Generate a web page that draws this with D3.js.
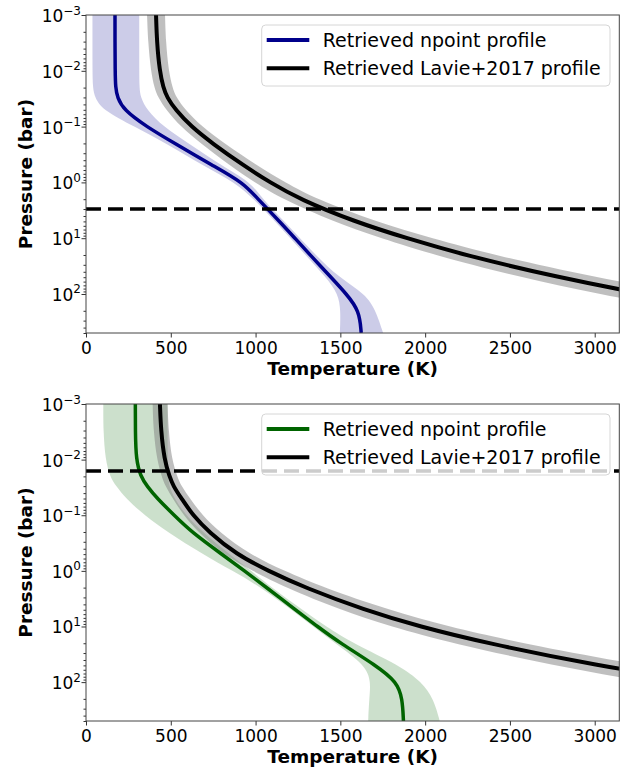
<!DOCTYPE html>
<html>
<head>
<meta charset="utf-8">
<script src="https://cdn.jsdelivr.net/npm/d3@7"></script>
<style>
  body { margin: 0; background: #fff; }
  text { font-family: "DejaVu Sans", sans-serif; fill: #000; }
</style>
</head>
<body>
<div id="chart"></div>
<script>
// pressure grid (bar) shared by every profile
const pressure = [1e-3, 3e-3, 1e-2, 2e-2, 3e-2, 5e-2, 0.1, 0.2, 0.5, 1, 2, 5, 10, 20, 50, 100, 200, 500];

// top planet: temperatures (K) on the pressure grid
const npointA   = [171, 171, 172, 174, 185, 222, 356, 523, 748, 925, 1015, 1141, 1232, 1322, 1444, 1536, 1612, 1623];
const npointALo = [38, 38, 38, 40, 52, 95, 285, 472, 690, 880, 990, 1115, 1205, 1295, 1415, 1488, 1502, 1497];
const npointAHi = [314, 314, 314, 315, 322, 358, 455, 605, 800, 975, 1040, 1170, 1262, 1355, 1490, 1648, 1710, 1752];
const lavieA    = [413, 418, 434, 456, 478, 528, 620, 745, 930, 1085, 1260, 1580, 1890, 2230, 2780, 3280, 3870, 4830];
const lavieALo  = [360, 366, 382, 403, 425, 472, 558, 676, 850, 995, 1160, 1455, 1740, 2055, 2560, 3020, 3560, 4440];
const lavieAHi  = [466, 471, 487, 510, 532, 585, 683, 815, 1010, 1175, 1360, 1705, 2040, 2405, 3000, 3540, 4180, 5220];

// bottom planet
const npointB   = [291, 291, 295, 322, 360, 420, 520, 622, 800, 935, 1065, 1235, 1365, 1500, 1710, 1835, 1866, 1872];
const npointBLo = [102, 102, 114, 141, 177, 236, 344, 481, 688, 864, 1035, 1210, 1340, 1470, 1650, 1680, 1670, 1664];
const npointBHi = [481, 481, 482, 485, 490, 521, 589, 688, 845, 975, 1095, 1275, 1415, 1575, 1850, 1980, 2050, 2086];
const lavieB    = [436, 442, 462, 492, 515, 563, 630, 725, 885, 1074, 1290, 1639, 1965, 2365, 3010, 3623, 4330, 5620];
const lavieBLo  = [393, 398, 418, 446, 468, 512, 575, 662, 808, 980, 1178, 1497, 1795, 2160, 2750, 3310, 3955, 5135];
const lavieBHi  = [481, 487, 506, 538, 562, 614, 685, 788, 962, 1168, 1402, 1781, 2135, 2570, 3270, 3936, 4705, 6105];

// horizontal dashed reference pressures (bar)
const dashedP = [3.0, 0.016];

const xTicks = [0, 500, 1000, 1500, 2000, 2500, 3000];
const yTicks = [1e-3, 1e-2, 1e-1, 1e0, 1e1, 1e2];
const legendLabels = ["Retrieved npoint profile", "Retrieved Lavie+2017 profile"];

const width = 629, height = 768;
const left = 86, right = 619.3;

const panels = [
    { top: 15, bottom: 333, color: "#00008b", med: npointA, lo: npointALo, hi: npointAHi,
      lav: lavieA, lavLo: lavieALo, lavHi: lavieAHi, dash: dashedP[0] },
    { top: 404, bottom: 721, color: "#006400", med: npointB, lo: npointBLo, hi: npointBHi,
      lav: lavieB, lavLo: lavieBLo, lavHi: lavieBHi, dash: dashedP[1] }
];

const svg = d3.select("#chart").append("svg")
    .attr("width", width)
    .attr("height", height);

panels.forEach((p, i) => drawPanel(p, i));

function drawPanel(p, i) {
    const x = d3.scaleLinear().domain([0, 3145]).range([left, right]);
    const y = d3.scaleLog().domain([1e-3, 500]).range([p.top, p.bottom]);
    const g = svg.append("g");

    g.append("clipPath").attr("id", "clip" + i)
        .append("rect")
        .attr("x", left).attr("y", p.top)
        .attr("width", right - left).attr("height", p.bottom - p.top);

    const plot = g.append("g").attr("clip-path", `url(#clip${i})`);

    const rows = (m, lo, hi) => pressure.map((P, k) => ({ P: P, t: m[k], lo: lo[k], hi: hi[k] }));
    const npRows = rows(p.med, p.lo, p.hi);
    const lvRows = rows(p.lav, p.lavLo, p.lavHi);

    const band = d3.area()
        .y(d => y(d.P))
        .x0(d => x(d.lo))
        .x1(d => x(d.hi))
        .curve(d3.curveBasis);
    const line = d3.line()
        .y(d => y(d.P))
        .x(d => x(d.t))
        .curve(d3.curveBasis);

    plot.append("path").datum(npRows).attr("d", band)
        .attr("fill", p.color).attr("fill-opacity", 0.2);
    plot.append("path").datum(lvRows).attr("d", band)
        .attr("fill", "#808080").attr("fill-opacity", 0.5);
    plot.append("path").datum(npRows).attr("d", line)
        .attr("fill", "none").attr("stroke", p.color).attr("stroke-width", 3.5);
    plot.append("path").datum(lvRows).attr("d", line)
        .attr("fill", "none").attr("stroke", "#000").attr("stroke-width", 4);

    plot.append("line")
        .attr("x1", left).attr("x2", right)
        .attr("y1", y(p.dash)).attr("y2", y(p.dash))
        .attr("stroke", "#000").attr("stroke-width", 3.5)
        .attr("stroke-dasharray", "15,7");

    // legend
    const lg = g.append("g").attr("transform", `translate(261.7,${p.top + 10})`);
    lg.append("rect")
        .attr("width", 348.3).attr("height", 61).attr("rx", 4)
        .attr("fill", "#fff").attr("fill-opacity", 0.8)
        .attr("stroke", "#d6d6d6").attr("stroke-width", 1);
    [p.color, "#000"].forEach((c, k) => {
        const ry = 15 + k * 28.3;
        lg.append("line")
            .attr("x1", 5).attr("x2", 47.6).attr("y1", ry).attr("y2", ry)
            .attr("stroke", c).attr("stroke-width", 4);
        lg.append("text")
            .attr("x", 61).attr("y", ry + 7)
            .style("font-size", "19px")
            .text(legendLabels[k]);
    });

    // axes
    const xAxis = g.append("g").attr("transform", `translate(0,${p.bottom})`)
        .call(d3.axisBottom(x).tickValues(xTicks).tickSize(4.5).tickPadding(4).tickFormat(d3.format("d")));
    xAxis.select(".domain").remove();
    xAxis.selectAll("line").attr("stroke", "#333");
    xAxis.selectAll("text").style("font-size", "17px").attr("fill", "#000");

    const minor = [];
    [-3, -2, -1, 0, 1, 2].forEach(e => {
        for (let m = 2; m <= 9; m++) {
            const v = m * Math.pow(10, e);
            if (v <= 500) minor.push(v);
        }
    });
    const yMinor = g.append("g").attr("transform", `translate(${left},0)`)
        .call(d3.axisLeft(y).tickValues(minor).tickSize(2.5).tickFormat(""));
    yMinor.select(".domain").remove();
    yMinor.selectAll("line").attr("stroke", "#333");

    const yAxis = g.append("g").attr("transform", `translate(${left},0)`)
        .call(d3.axisLeft(y).tickValues(yTicks).tickSize(4.5).tickFormat(""));
    yAxis.select(".domain").remove();
    yAxis.selectAll("line").attr("stroke", "#333");
    yAxis.selectAll(".tick").append("text")
        .attr("x", -5).attr("y", 6.5)
        .attr("text-anchor", "end")
        .style("font-size", "17px")
        .each(function(d) {
            const e = Math.round(Math.log10(d));
            const t = d3.select(this);
            t.append("tspan").text("10");
            t.append("tspan").attr("dy", -7.5).style("font-size", "12px")
                .text(e < 0 ? "\u2212" + (-e) : String(e));
        });

    g.append("rect")
        .attr("x", left).attr("y", p.top)
        .attr("width", right - left).attr("height", p.bottom - p.top)
        .attr("fill", "none").attr("stroke", "#444").attr("stroke-width", 1);

    g.append("text")
        .attr("x", (left + right) / 2).attr("y", p.bottom + 42)
        .attr("text-anchor", "middle")
        .style("font-size", "18.5px").style("font-weight", "bold")
        .text("Temperature (K)");
    g.append("text")
        .attr("transform", `translate(32,${(p.top + p.bottom) / 2}) rotate(-90)`)
        .attr("text-anchor", "middle")
        .style("font-size", "18.5px").style("font-weight", "bold")
        .text("Pressure (bar)");
}
</script>
</body>
</html>
